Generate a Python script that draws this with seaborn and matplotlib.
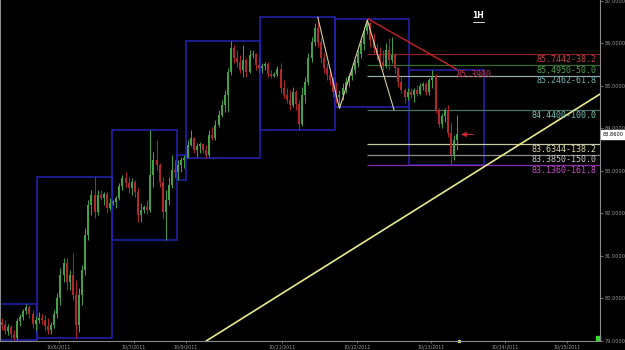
import numpy as np
import pandas as pd
import matplotlib
matplotlib.use("Agg")
import matplotlib.pyplot as plt
import matplotlib.transforms as mtransforms
from matplotlib.patches import Rectangle
import seaborn as sns

# ---------------- data ----------------
opens = [
    79.45, 79.38, 79.24, 79.33, 79.16, 79.07, 79.47, 79.56, 79.71, 79.80, 79.64, 79.40,
    79.49, 79.54, 79.49, 79.35, 79.26, 79.38, 79.64, 80.01, 80.55, 80.84, 80.39, 80.55,
    80.08, 79.38, 80.08, 80.67, 81.49, 82.20, 82.44, 82.04, 82.44, 82.36, 82.46, 82.13,
    82.25, 82.27, 82.36, 82.65, 82.84, 82.72, 82.60, 82.74, 82.51, 81.96, 82.08, 82.15,
    82.08, 82.91, 83.26, 83.14, 82.74, 82.04, 82.32, 82.67, 83.02,
    82.98, 83.14, 83.26,
    83.31, 83.61, 83.78, 83.49, 83.59, 83.64, 83.49, 83.38, 83.85, 83.78, 84.08, 84.32,
    84.55, 84.79, 85.33, 85.89, 85.66, 85.56, 85.38, 85.61, 85.33, 85.73, 85.75, 85.49,
    85.42, 85.47, 85.52, 85.28, 85.24, 85.28, 85.40, 84.95, 84.79, 84.67, 84.55, 84.86,
    84.58, 84.11, 84.79, 85.09, 85.66, 86.04, 86.36, 86.04, 85.66, 85.42, 85.26, 85.14,
    84.86, 84.74, 84.79, 84.95, 85.09, 85.24, 85.38, 85.54, 85.75, 85.99, 86.29, 86.48,
    86.08, 85.89, 85.73, 85.56, 85.47, 85.85, 85.61, 85.73, 85.42, 85.09, 84.91, 84.74,
    84.86, 84.79, 84.91, 84.81, 85.00, 85.05, 84.86, 85.14, 85.24, 84.44, 84.11, 84.29,
    84.44, 83.89, 83.38, 83.73,
]
highs = [
    79.54, 79.49, 79.40, 79.38, 79.26, 79.54, 79.64, 79.75, 79.87, 79.85, 79.73, 79.59,
    79.68, 79.64, 79.61, 79.54, 79.45, 79.73, 80.13, 80.72, 80.95, 80.95, 80.67, 81.07,
    80.44, 80.25, 80.79, 81.66, 82.32, 82.55, 82.86, 82.55, 82.55, 82.51, 82.51, 82.36,
    82.32, 82.41, 82.72, 82.91, 82.98, 82.86, 82.84, 82.79, 82.60, 82.25, 82.20, 82.32,
    83.96, 83.45, 83.73, 83.19, 82.86, 82.55, 82.86, 83.38, 83.26,
    83.26, 83.33, 83.38,
    83.73, 83.96, 83.80, 83.66, 83.68, 83.66, 83.61, 83.96, 84.04, 84.20, 84.44, 84.67,
    84.91, 85.42, 86.06, 85.96, 85.85, 85.73, 85.96, 85.66, 85.85, 85.85, 85.78, 85.66,
    85.54, 85.56, 85.56, 85.38, 85.33, 85.47, 85.54, 85.14, 84.95, 84.91, 84.98, 84.91,
    84.67, 84.98, 85.21, 85.78, 86.15, 86.48, 86.62, 86.15, 85.78, 85.54, 85.38, 85.21,
    85.09, 84.91, 85.07, 85.21, 85.31, 85.45, 85.61, 85.85, 86.08, 86.39, 86.58, 86.51,
    86.25, 86.01, 85.92, 85.85, 86.01, 86.13, 86.15, 85.78, 85.45, 85.21, 84.95, 84.95,
    84.95, 84.95, 85.02, 85.07, 85.09, 85.09, 85.19, 85.38, 85.28, 84.48, 84.36, 84.48,
    84.55, 84.15, 83.85, 84.32,
]
lows = [
    79.26, 79.16, 79.14, 79.07, 79.02, 79.02, 79.35, 79.49, 79.64, 79.54, 79.31, 79.26,
    79.42, 79.40, 79.26, 79.16, 79.16, 79.31, 79.54, 79.85, 80.39, 80.20, 80.20, 79.96,
    79.07, 79.21, 79.85, 80.55, 81.38, 81.96, 81.89, 81.96, 82.32, 82.20, 82.04, 82.08,
    82.20, 82.13, 82.32, 82.55, 82.62, 82.48, 82.44, 82.39, 81.80, 81.80, 82.01, 81.99,
    82.04, 82.62, 83.02, 82.62, 81.89, 81.38, 82.20, 82.60, 82.84,
    82.79, 82.98, 83.07,
    83.31, 83.59, 83.42, 83.33, 83.42, 83.42, 83.31, 83.33, 83.73, 83.73, 84.04, 84.27,
    84.39, 84.39, 85.26, 85.54, 85.45, 85.31, 85.21, 85.21, 85.31, 85.66, 85.38, 85.33,
    85.31, 85.38, 85.21, 85.19, 85.21, 85.24, 84.84, 84.72, 84.60, 84.44, 84.51, 84.44,
    83.96, 84.06, 84.60, 85.02, 85.56, 85.94, 85.92, 85.54, 85.31, 85.14, 85.02, 84.74,
    84.60, 84.51, 84.67, 84.84, 84.98, 85.14, 85.28, 85.45, 85.66, 85.85, 86.22, 85.92,
    85.78, 85.61, 85.45, 85.38, 85.42, 85.38, 85.54, 85.31, 84.98, 84.84, 84.60, 84.67,
    84.72, 84.62, 84.76, 84.79, 84.91, 84.79, 84.79, 84.95, 84.36, 84.04, 84.01, 84.15,
    83.80, 83.14, 83.26, 83.49,
]
closes = [
    79.38, 79.24, 79.33, 79.16, 79.07, 79.47, 79.56, 79.71, 79.80, 79.64, 79.40, 79.49,
    79.54, 79.49, 79.35, 79.26, 79.38, 79.64, 80.01, 80.55, 80.84, 80.39, 80.55, 80.08,
    79.38, 80.08, 80.67, 81.49, 82.20, 82.44, 82.04, 82.44, 82.36, 82.46, 82.13, 82.25,
    82.27, 82.36, 82.65, 82.84, 82.72, 82.60, 82.74, 82.51, 81.96, 82.08, 82.15, 82.08,
    82.91, 83.26, 83.14, 82.74, 82.04, 82.32, 82.67, 83.02, 82.98,
    83.14, 83.26, 83.31,
    83.61, 83.78, 83.49, 83.59, 83.64, 83.49, 83.38, 83.85, 83.78, 84.08, 84.32, 84.55,
    84.79, 85.33, 85.89, 85.66, 85.56, 85.38, 85.61, 85.33, 85.73, 85.75, 85.49, 85.42,
    85.47, 85.52, 85.28, 85.24, 85.28, 85.40, 84.95, 84.79, 84.67, 84.55, 84.86, 84.58,
    84.11, 84.79, 85.09, 85.66, 86.04, 86.36, 86.04, 85.66, 85.42, 85.26, 85.14, 84.86,
    84.74, 84.79, 84.95, 85.09, 85.24, 85.38, 85.54, 85.75, 85.99, 86.29, 86.48, 86.08,
    85.89, 85.73, 85.56, 85.47, 85.85, 85.61, 85.73, 85.42, 85.09, 84.91, 84.74, 84.86,
    84.79, 84.91, 84.81, 85.00, 85.05, 84.86, 85.14, 85.24, 84.44, 84.11, 84.29, 84.44,
    83.89, 83.38, 83.73, 83.86,
]

day_starts = [0, 12, 36, 57, 60, 84, 108, 132]
day_lengths = [12, 24, 21, 3, 24, 24, 24, 24]

fib_prices = [85.7442, 85.4950, 85.2462, 84.4400, 83.6344, 83.3850, 83.1360]
fib_pcts = ["38.2", "50.0", "61.8", "100.0", "138.2", "150.0", "161.8"]
fib_start = 118
fib_line_colors = ["#8e2222", "#2f6e2f", "#9aabab", "#4e7468", "#c9c9a2", "#8c8c8c", "#8a2aa6"]
fib_text_colors = ["#c24444", "#4fa24f", "#6fb2b2", "#74c4b4", "#d9d9a4", "#c8c8c8", "#c450c4"]

zz_idx = [102, 109, 118, 126.6]
zz_price = [86.62, 84.47, 86.55, 84.44]

red_idx = [118.2, 146.9]
red_price = [86.58, 85.39]
red_label = "85.3900"

trend_idx = [66.0, 193.05]
trend_price = [79.00, 84.81]

last_price = 83.86

ytick_vals = [79, 80, 81, 82, 83, 84, 85, 86, 87]
xtick_pos = [18.5, 42.7, 59.5, 90.5, 114.7, 138.5, 162.4, 182.4]
xtick_labels = ["10/6/2011", "10/7/2011", "10/9/2011", "10/11/2011",
                "10/12/2011", "10/13/2011", "10/14/2011", "10/15/2011"]

# ---------------- figure ----------------
sns.set_theme(style="dark", rc={"axes.facecolor": "black", "figure.facecolor": "black",
                                "axes.grid": False})
plt.rcParams["font.family"] = ["DejaVu Sans"]

W, H = 625, 350
fig = plt.figure(figsize=(W / 100, H / 100), dpi=100)
ax = fig.add_axes([0, 9 / H, 600 / W, 341 / H])
ax.set_facecolor("black")

x_min, x_max = -0.5, 193.05
ax.set_xlim(x_min, x_max)
ax.set_ylim(79.0, 87.0235)

df = pd.DataFrame({"o": opens, "h": highs, "l": lows, "c": closes})
df["i"] = np.arange(len(df))

# daily range boxes (from candle highs/lows)
day_of = np.zeros(len(df), dtype=int)
for d, (s, n) in enumerate(zip(day_starts, day_lengths)):
    day_of[s:s + n] = d
df["day"] = day_of
rng = df.groupby("day").agg(hi=("h", "max"), lo=("l", "min"))
for d, (s, n) in enumerate(zip(day_starts, day_lengths)):
    ax.add_patch(Rectangle((s - 0.5, rng.loc[d, "lo"]), n, rng.loc[d, "hi"] - rng.loc[d, "lo"],
                           fill=False, ec="#2222b4", lw=1.1, zorder=1))

# candles
up, down, doji = "#44a044", "#b02828", "#8080f0"
cols = [doji if abs(c - o) < 0.015 else (up if c > o else down)
        for o, c in zip(df.o, df.c)]
ax.vlines(df.i, df.l, df.h, colors=cols, lw=0.7, zorder=3)
body_lo = np.minimum(df.o, df.c)
body_h = np.maximum(np.abs(df.c - df.o), 0.02)
ax.bar(df.i, body_h, bottom=body_lo, width=0.66, color=cols, linewidth=0, zorder=3)

# fibonacci levels
ax.hlines(fib_prices, fib_start, x_max, colors=fib_line_colors, lw=0.9, zorder=2)
for p, pct, tc in zip(fib_prices, fib_pcts, fib_text_colors):
    ax.text(x_max - 1.0, p - 0.02, f"{p:.4f}-{pct}", ha="right", va="top",
            color=tc, fontsize=6, family="DejaVu Sans Mono", zorder=5)

# zigzag, red line, yellow trend
sns.lineplot(x=zz_idx, y=zz_price, ax=ax, color="#d8cfa0", lw=0.8, sort=False,
             estimator=None, zorder=4)
sns.lineplot(x=red_idx, y=red_price, ax=ax, color="#c82424", lw=1.0, sort=False,
             estimator=None, zorder=4)
ax.text(red_idx[1], red_price[1] - 0.02, red_label, ha="left", va="top", color="#c03a52",
        fontsize=6, family="DejaVu Sans Mono", zorder=5)
sns.lineplot(x=trend_idx, y=trend_price, ax=ax, color="#eaea8c", lw=1.2, sort=False,
             estimator=None, zorder=4)

# arrow at last candle
ax.annotate("", xy=(len(df) + 0.2, last_price), xytext=(len(df) + 4.2, last_price),
            arrowprops=dict(arrowstyle="-|>,head_length=0.25,head_width=0.12",
                            color="#d02828", lw=0.7, shrinkA=0, shrinkB=0), zorder=6)

# title tag 1H
ax.text(0.797, 0.955, "1H", transform=ax.transAxes, color="white", fontsize=5.5,
        fontweight="bold", ha="center", va="center")
ax.plot([0.788, 0.806], [0.936, 0.936], transform=ax.transAxes, color="white", lw=0.6)

# axes styling
for side in ["left", "right", "bottom"]:
    ax.spines[side].set_color("#8a8a8a")
    ax.spines[side].set_linewidth(0.8)
    ax.spines[side].set_visible(True)
ax.spines["top"].set_visible(False)

ax.yaxis.tick_right()
ax.set_yticks(ytick_vals)
ax.set_yticklabels([f"{v:.4f}" for v in ytick_vals])
ax.tick_params(axis="y", colors="#9a9a9a", labelsize=3.6, length=2, width=0.5, pad=1.5,
               right=True, left=False, direction="out")
ax.set_xticks(xtick_pos)
ax.set_xticklabels(xtick_labels)
ax.tick_params(axis="x", colors="#9a9a9a", labelsize=3.4, length=1.5, width=0.5, pad=0.8,
               bottom=True, direction="out")
ax.set_xlabel("")
ax.set_ylabel("")

# current price tag
tr = mtransforms.blended_transform_factory(ax.transAxes, ax.transData)
ax.text(1.004, last_price, f"{last_price:.4f}", transform=tr, color="black", fontsize=3.6,
        ha="left", va="center", clip_on=False,
        bbox=dict(boxstyle="square,pad=0.35", fc="white", ec="white"))

# small markers
ax.plot([0.996], [0.008], marker="s", color="#30e030", ms=2.5, transform=ax.transAxes,
        clip_on=False)
ax.plot([len(df) - 0.3], [79.0], marker="s", color="#f0f080", ms=1.3, clip_on=False)

fig.savefig("out.png", dpi=100, facecolor="black")
